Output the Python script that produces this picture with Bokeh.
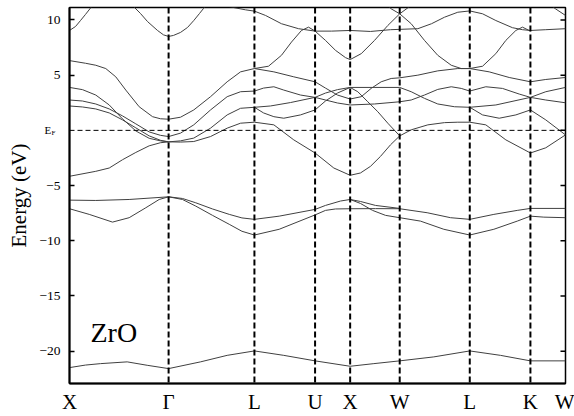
from bokeh.plotting import figure
from bokeh.models import (Range1d, FixedTicker, Span, Label, CustomJSTickFormatter)
from bokeh.core.properties import value
from bokeh.embed import file_html
from bokeh.resources import INLINE

# ---------------- data ----------------
kpoint_pos = [0.0, 1.0, 1.866, 2.478, 2.832, 3.332, 4.039, 4.651, 5.005]
kpoint_labels = ["X", "Γ", "L", "U", "X", "W", "L", "K", "W"]
energy_ticks = [-20, -15, -10, -5, 0, 5, 10]
labelled_ticks = [-20, -15, -10, -5, 5, 10]
fermi_level = 0.0
compound = "ZrO"

# upper (conduction) bands
c1_k = [0, .061, .111, .161, .212, .252]
c1_e = [9.05, 9.41, 9.95, 10.50, 11.08, 11.58]
c2_k = [.616, .656, .716, .787, .888, .949, 1.0, 1.049, 1.120, 1.191, 1.254, 1.312, 1.352, 1.382]
c2_e = [11.58, 11.13, 10.59, 9.86, 9.05, 8.65, 8.51, 8.60, 8.87, 9.32, 9.95, 10.59, 11.04, 11.40]
c3_k = [1.473, 1.655, 1.776, 1.866, 1.978, 2.139, 2.311, 2.478, 2.644, 2.832, 3.037, 3.239, 3.332,
        3.515, 3.653, 3.784, 3.918, 4.039, 4.168, 4.302, 4.470, 4.571, 4.651, 4.806, 5.005]
c3_e = [11.49, 11.13, 10.92, 10.80, 10.41, 9.66, 9.21, 8.99, 8.99, 9.05, 8.96, 9.12, 9.15,
        9.21, 9.66, 10.25, 10.70, 10.82, 10.56, 9.95, 9.30, 9.12, 9.05, 9.12, 9.21]
c4_k = [1.866, 2.008, 2.139, 2.240, 2.341, 2.412, 2.478, 2.583, 2.684, 2.785, 2.832,
        2.944, 3.078, 3.212, 3.332, 3.414, 3.488]
c4_e = [5.60, 5.81, 6.80, 8.00, 9.05, 9.35, 8.99, 8.15, 7.25, 6.59, 6.41,
        6.95, 8.15, 9.50, 10.56, 11.10, 11.60]
c5_k = [3.212, 3.246, 3.332, 3.448, 3.582, 3.716, 3.852, 3.953, 4.039,
        4.168, 4.302, 4.403, 4.504, 4.571, 4.651]
c5_e = [11.31, 11.01, 10.56, 9.66, 8.15, 6.80, 5.90, 5.60, 5.60,
        5.81, 6.95, 8.15, 9.05, 9.35, 8.99]
c6_k = [4.834, 4.904, 5.005]
c6_e = [11.50, 11.01, 10.41]

# X - Gamma
xg1_k = [0, .161, .265, .366, .467, .568, .703, .838, .918, 1.0]
xg1_e = [6.32, 6.08, 5.90, 5.60, 4.85, 3.65, 2.14, 1.24, 1.05, 1.01]
xg2_k = [0, .131, .265, .401, .535, .669, .804, .918, 1.0]
xg2_e = [3.89, 3.69, 3.20, 2.30, 1.04, -0.05, -0.72, -0.95, -1.04]
xg3_k = [0, .131, .265, .401, .535, .669, .804, .918, 1.0]
xg3_e = [2.75, 2.66, 2.39, 1.94, 1.31, 0.59, -0.14, -0.45, -0.56]
xg4_k = [0, .131, .265, .401, .535, .669, .804, .918, 1.0]
xg4_e = [2.21, 2.12, 1.94, 1.58, 0.95, 0.23, -0.50, -0.90, -1.04]
xg5_k = [0, .265, .401, .535, .669, .804, .918, 1.0]
xg5_e = [-4.16, -3.71, -3.41, -2.66, -2.00, -1.40, -1.12, -1.04]

# Gamma - L
gl_k = [1.0, 1.120, 1.254, 1.423, 1.591, 1.726, 1.866]
gl1_e = [1.01, 1.19, 1.85, 3.05, 4.40, 5.30, 5.60]
gl2_e = [-0.56, -0.25, 0.50, 1.85, 3.05, 3.50, 3.56]
gl3_e = [-1.04, -0.95, -0.70, 0.20, 1.40, 2.00, 2.09]
gl4_e = [-1.04, -1.06, -1.01, -0.56, 0.20, 0.65, 0.74]

# L - U - X
lu1_k = [1.866, 2.062, 2.263, 2.478, 2.583, 2.704, 2.832]
lu1_e = [5.60, 5.30, 4.85, 4.40, 3.83, 3.20, 2.84]
lu2_k = [1.866, 1.958, 2.062, 2.162, 2.331, 2.478, 2.583, 2.704, 2.832]
lu2_e = [3.56, 3.83, 3.95, 3.65, 3.20, 2.99, 3.38, 3.69, 3.89]
lu3_k = [1.866, 2.028, 2.230, 2.478, 2.583, 2.704, 2.832]
lu3_e = [2.09, 2.21, 2.52, 2.99, 2.75, 2.48, 2.30]
lu4_k = [1.866, 1.958, 2.062, 2.162, 2.331, 2.478, 2.583, 2.704, 2.832]
lu4_e = [2.09, 1.58, 1.24, 1.10, 1.40, 1.85, 2.66, 3.38, 3.89]
lu5_k = [1.866, 2.062, 2.263, 2.478, 2.667, 2.832]
lu5_e = [0.74, 0.50, -0.86, -2.05, -3.41, -4.07]

# X - W
xw1_k = [2.832, 3.082, 3.332]
xw1_e = [3.89, 3.89, 3.89]
xw2_k = [2.832, 2.909, 3.010, 3.111, 3.212, 3.332]
xw2_e = [3.89, 3.50, 2.59, 1.69, 0.65, -0.50]
xw3_k = [2.832, 2.944, 3.044, 3.145, 3.246, 3.332]
xw3_e = [2.84, 3.05, 3.80, 4.40, 4.70, 4.76]
xw4_k = [2.832, 3.078, 3.332]
xw4_e = [2.30, 2.39, 2.59]
xw5_k = [2.832, 2.936, 3.037, 3.138, 3.239, 3.332]
xw5_e = [-4.07, -3.86, -3.26, -2.36, -1.31, -0.50]

# W - L
wl1_k = [3.332, 3.515, 3.716, 3.918, 4.039]
wl1_e = [4.76, 5.00, 5.39, 5.60, 5.60]
wl2_k = [3.332, 3.448, 3.582, 3.716, 3.885, 4.039]
wl2_e = [3.89, 3.50, 2.90, 2.39, 2.14, 2.09]
wl3_k = [3.332, 3.448, 3.582, 3.716, 3.852, 3.953, 4.039]
wl3_e = [2.59, 2.75, 3.20, 3.71, 3.95, 3.80, 3.56]
wl4_k = [3.332, 3.448, 3.616, 3.784, 3.918, 4.039]
wl4_e = [-0.50, 0.05, 0.50, 0.70, 0.74, 0.74]

# L - K - W
lk1_k = [4.039, 4.235, 4.437, 4.651, 4.806, 5.005]
lk1_e = [5.60, 5.30, 4.79, 4.40, 4.61, 4.79]
lk2_k = [4.039, 4.201, 4.369, 4.538, 4.651, 4.806, 5.005]
lk2_e = [3.56, 3.95, 3.80, 3.29, 2.99, 3.50, 3.89]
lk3_k = [4.039, 4.302, 4.651, 4.806, 5.005]
lk3_e = [2.09, 2.30, 2.99, 2.75, 2.50]
lk4_k = [4.039, 4.168, 4.336, 4.504, 4.651, 4.806, 5.005]
lk4_e = [2.09, 1.40, 1.10, 1.40, 1.85, 0.95, -0.41]
lk5_k = [4.039, 4.201, 4.403, 4.651, 4.806, 5.005]
lk5_e = [0.74, 0.50, -0.86, -2.05, -1.58, -0.41]

# valence bands around -6 .. -9.5 eV
v1_k = [0, .265, .602, 1.0, 1.140, 1.274, 1.443, 1.612, 1.740, 1.866, 2.116, 2.478]
v1_e = [-6.32, -6.35, -6.26, -6.02, -6.17, -6.56, -7.12, -7.61, -7.93, -8.06, -7.77, -7.16]
v2_k = [0, .199, .434, .602, .770, .905, 1.0, 1.140, 1.274, 1.443, 1.612, 1.740, 1.866, 2.116, 2.478]
v2_e = [-7.10, -7.61, -8.31, -7.91, -7.01, -6.26, -6.02, -6.26, -6.86, -7.70, -8.51, -9.14, -9.48, -8.96, -7.66]
v3_k = [2.478, 2.583, 2.735, 2.832, 2.936, 3.088, 3.332]
v3_e = [-7.16, -6.80, -6.40, -6.26, -6.44, -6.80, -7.07]
v4_k = [2.478, 2.583, 2.684, 2.832, 3.088, 3.332]
v4_e = [-7.66, -7.25, -7.12, -7.10, -7.09, -7.10]
v5_k = [2.832, 2.936, 3.058, 3.189, 3.332]
v5_e = [-6.26, -6.62, -7.25, -7.70, -7.91]
v6_k = [3.332, 3.609, 3.845, 4.039, 4.282, 4.518, 4.651, 5.005]
v6_e = [-7.10, -7.46, -7.91, -8.06, -7.61, -7.25, -7.07, -7.07]
v7_k = [3.332, 3.542, 3.777, 4.039, 4.282, 4.518, 4.651, 4.786, 5.005]
v7_e = [-7.91, -8.22, -8.96, -9.48, -8.96, -8.22, -7.77, -7.86, -7.91]

# deep band near -21 eV
d_k = [0, .161, .313, .582, .784, 1.0, 1.322, 1.591, 1.866, 2.162, 2.478, 2.832,
       3.071, 3.332, 3.676, 4.039, 4.349, 4.651, 5.005]
d_e = [-21.49, -21.26, -21.13, -20.97, -21.28, -21.58, -20.97, -20.38, -19.98, -20.38,
       -20.88, -21.37, -21.13, -20.88, -20.52, -19.98, -20.38, -20.88, -20.88]

curves = [
    (c1_k, c1_e), (c2_k, c2_e), (c3_k, c3_e), (c4_k, c4_e), (c5_k, c5_e), (c6_k, c6_e),
    (xg1_k, xg1_e), (xg2_k, xg2_e), (xg3_k, xg3_e), (xg4_k, xg4_e), (xg5_k, xg5_e),
    (gl_k, gl1_e), (gl_k, gl2_e), (gl_k, gl3_e), (gl_k, gl4_e),
    (lu1_k, lu1_e), (lu2_k, lu2_e), (lu3_k, lu3_e), (lu4_k, lu4_e), (lu5_k, lu5_e),
    (xw1_k, xw1_e), (xw2_k, xw2_e), (xw3_k, xw3_e), (xw4_k, xw4_e), (xw5_k, xw5_e),
    (wl1_k, wl1_e), (wl2_k, wl2_e), (wl3_k, wl3_e), (wl4_k, wl4_e),
    (lk1_k, lk1_e), (lk2_k, lk2_e), (lk3_k, lk3_e), (lk4_k, lk4_e), (lk5_k, lk5_e),
    (v1_k, v1_e), (v2_k, v2_e), (v3_k, v3_e), (v4_k, v4_e), (v5_k, v5_e),
    (v6_k, v6_e), (v7_k, v7_e), (d_k, d_e),
]

# ---------------- figure ----------------
SERIF = "Liberation Serif"
x_start, x_end = kpoint_pos[0], kpoint_pos[-1]
p = figure(width=574, height=416, output_backend="svg", toolbar_location=None,
           x_range=Range1d(x_start, x_end), y_range=Range1d(-22.93, 11.13),
           min_border_left=69, min_border_right=9, min_border_top=7, min_border_bottom=31)
p.xgrid.visible = False
p.ygrid.visible = False
p.outline_line_color = "black"
p.outline_line_width = 1.5
p.background_fill_color = "white"
p.border_fill_color = "white"

p.multi_line(xs=[c[0] for c in curves], ys=[c[1] for c in curves],
             line_color="#404040", line_width=1)

for kx in kpoint_pos[1:-1]:
    p.add_layout(Span(location=kx, dimension="height", line_color="black",
                      line_width=2, line_dash="6 3"))
p.add_layout(Span(location=fermi_level, dimension="width", line_color="black",
                  line_width=1, line_dash="5 3"))

# inward tick marks on the right frame edge (half of each dash is clipped away)
p.scatter(x=[x_end] * len(energy_ticks), y=energy_ticks, marker="dash", size=10,
          line_color="black", line_width=1.5)

xa = p.xaxis[0]
xa.ticker = FixedTicker(ticks=kpoint_pos)
xa.formatter = CustomJSTickFormatter(args=dict(names=kpoint_labels), code="return names[index]")
xa.major_tick_in = 0
xa.major_tick_out = 0
xa.minor_tick_line_color = None
xa.axis_line_width = 2
xa.major_label_text_font = SERIF
xa.major_label_text_font_size = "21px"
xa.major_label_text_color = "black"
xa.major_label_standoff = 6

ya = p.yaxis[0]
ya.ticker = FixedTicker(ticks=labelled_ticks)
ya.major_tick_in = 5
ya.major_tick_out = 0
ya.major_tick_line_width = 1.5
ya.minor_tick_line_color = None
ya.axis_line_width = 2
ya.major_label_text_font = SERIF
ya.major_label_text_font_size = "13.5px"
ya.major_label_text_color = "black"
ya.major_label_standoff = 9
ya.axis_label = "Energy (eV)"
ya.axis_label_text_font = SERIF
ya.axis_label_text_font_style = "normal"
ya.axis_label_text_font_size = "21px"
ya.axis_label_text_color = "black"
ya.axis_label_standoff = 5

# "E_F" tick label: text glyphs on the overlay level (not clipped to the frame)
p.text(x=[x_start], y=[fermi_level], text=["E"], x_offset=-25,
       text_font=value(SERIF), text_font_size="11px", text_color="black",
       text_baseline="middle", text_align="left", level="overlay")
p.text(x=[x_start], y=[fermi_level], text=["F"], x_offset=-18, y_offset=3,
       text_font=value(SERIF), text_font_size="7px", text_color="black",
       text_baseline="middle", text_align="left", level="overlay")
p.add_layout(Label(x=0.212, y=-18.27, text=compound, text_font=SERIF, text_color="black",
                   text_font_size="28px", text_baseline="alphabetic", text_align="left"))

open("out.html", "w").write(file_html(p, INLINE))
